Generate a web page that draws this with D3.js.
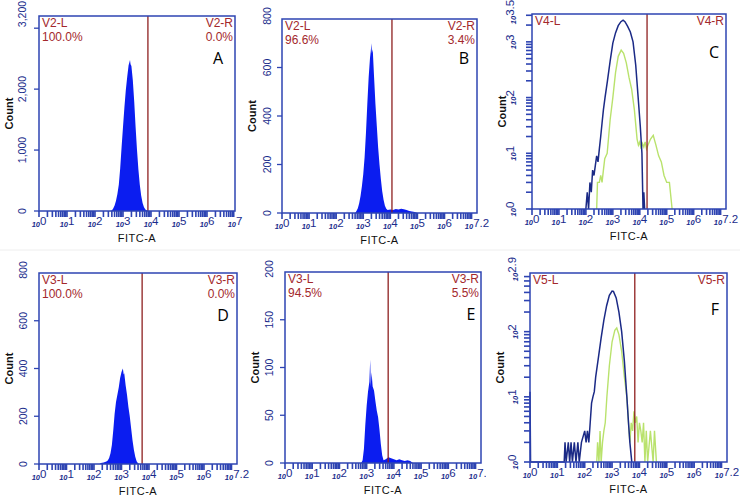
<!DOCTYPE html>
<html>
<head>
<meta charset="utf-8">
<script src="https://cdn.jsdelivr.net/npm/d3@7"></script>
<style>
body { margin: 0; background: #fff; }
svg { display: block; font-family: "Liberation Sans", Arial, sans-serif; }
</style>
</head>
<body>
<svg id="chart" width="740" height="498"></svg>
<script>
/**
 * Data (x in log10 of FITC-A, y in event count)
 */
var histA = [[2.55,0],[2.60,10],[2.65,40],[2.70,90],[2.75,170],[2.80,280],[2.85,430],[2.90,700],[2.95,1050],[3.00,1380],[3.05,1700],[3.10,1980],[3.15,2200],[3.20,2390],[3.23,2440],[3.25,2480],[3.27,2410],[3.30,2380],[3.35,2150],[3.40,1800],[3.45,1380],[3.50,1000],[3.55,680],[3.60,430],[3.65,250],[3.70,130],[3.75,60],[3.80,25],[3.85,8],[3.90,0]];
var histB = [[2.70,0],[2.75,8],[2.80,20],[2.85,40],[2.90,70],[2.95,110],[3.00,160],[3.05,230],[3.10,330],[3.15,450],[3.20,560],[3.25,640],[3.28,670],[3.30,700],[3.32,660],[3.35,675],[3.40,560],[3.45,450],[3.50,360],[3.55,270],[3.60,200],[3.65,140],[3.70,90],[3.75,55],[3.80,30],[3.85,18],[3.90,12],[4.00,14],[4.10,12],[4.20,16],[4.30,14],[4.40,18],[4.50,15],[4.60,12],[4.70,8],[4.80,6],[4.90,4],[5.00,0]];
var histD = [[2.20,0],[2.25,4],[2.35,6],[2.45,10],[2.50,15],[2.55,25],[2.60,45],[2.65,80],[2.70,140],[2.75,210],[2.80,260],[2.85,290],[2.90,320],[2.95,360],[3.00,385],[3.05,400],[3.08,375],[3.10,380],[3.15,330],[3.20,290],[3.25,240],[3.30,200],[3.35,150],[3.40,100],[3.45,60],[3.50,30],[3.55,12],[3.60,3],[3.65,0]];
var histE = [[2.80,0],[2.85,3],[2.90,15],[2.95,40],[3.00,60],[3.05,75],[3.10,85],[3.13,108],[3.15,80],[3.18,95],[3.22,80],[3.27,76],[3.32,65],[3.37,55],[3.42,48],[3.47,35],[3.52,20],[3.57,8],[3.62,3],[3.70,4],[3.80,6],[3.90,5],[4.00,4],[4.10,3],[4.20,4],[4.30,3],[4.40,2],[4.50,3],[4.60,2],[4.70,0]];

var lineCBlue = [[2.00,0],[2.05,2],[2.10,1],[2.15,3],[2.20,2],[2.25,5],[2.30,4],[2.35,6],[2.40,9],[2.45,7],[2.50,12],[2.55,20],[2.60,35],[2.65,60],[2.71,100],[2.80,200],[2.90,450],[3.00,950],[3.10,1450],[3.20,1950],[3.30,2300],[3.38,2450],[3.45,2300],[3.55,1900],[3.65,1500],[3.75,1000],[3.85,380],[3.94,100],[4.02,30],[4.08,10],[4.12,0],[4.15,2],[4.18,0]];
var lineCGreen = [[2.40,0],[2.43,3],[2.50,3],[2.55,4],[2.60,3],[2.65,5],[2.70,8],[2.79,10],[2.90,40],[3.00,100],[3.10,280],[3.20,550],[3.31,710],[3.40,620],[3.50,420],[3.60,230],[3.70,140],[3.80,60],[3.90,18],[3.95,14],[4.00,16],[4.05,12],[4.10,15],[4.15,13],[4.20,16],[4.25,12],[4.30,14],[4.40,18],[4.50,21],[4.55,17],[4.60,14],[4.70,9],[4.80,7],[4.90,4],[5.00,3],[5.10,3],[5.20,0]];
var lineFBlue = [[0.00,12],[0.02,0],[1.25,0],[1.28,2],[1.32,0],[1.40,2],[1.45,0],[1.50,2],[1.55,1],[1.62,2],[1.68,0],[1.75,2],[1.80,1],[1.88,2],[2.00,3],[2.05,2],[2.10,3],[2.15,2],[2.20,4],[2.25,8],[2.30,10],[2.35,12],[2.40,20],[2.50,40],[2.60,80],[2.70,150],[2.80,250],[2.90,360],[3.00,420],[3.05,415],[3.15,330],[3.25,200],[3.35,100],[3.45,35],[3.54,10],[3.60,4],[3.65,2],[3.72,0]];
var lineFGreen = [[2.44,0],[2.47,2],[2.52,0],[2.56,3],[2.60,1],[2.65,2],[2.70,3],[2.75,4],[2.81,10],[2.90,30],[3.00,70],[3.10,105],[3.17,114],[3.25,90],[3.35,50],[3.45,20],[3.54,10],[3.60,4],[3.65,2],[3.70,4],[3.75,3],[3.80,6],[3.85,4],[3.90,5],[3.95,2],[4.00,4],[4.05,3],[4.10,2],[4.15,4],[4.20,1],[4.25,3],[4.30,1],[4.40,3],[4.50,1],[4.55,3],[4.62,0]];

var panelIds =   ["A", "B", "C", "D", "E", "F"];
var gateNames =  ["V2", "V2", "V4", "V3", "V3", "V5"];
var leftPct =    ["100.0%", "96.6%", "", "100.0%", "94.5%", ""];
var rightPct =   ["0.0%", "3.4%", "", "0.0%", "5.5%", ""];
var gateAt =     [3.89, 4.06, 4.27, 3.75, 3.79, 3.83];
var xMax =       [7, 7.2, 7.2, 7.2, 7.2, 7.2];
var yMax =       [3200, 800, 3.5, 800, 200, 2.9];   // log panels: decades
var yTicks =     [[0, 1000, 2000, 3000], [0, 200, 400, 600], [0, 1, 2, 3], [0, 200, 400, 600], [0, 50, 100, 150], [0, 1, 2]];
var yTickLabels = [["0", "1,000", "2,000", ""], ["0", "200", "400", "600"], ["0", "1", "2", "3"], ["0", "200", "400", "600"], ["0", "50", "100", "150"], ["0", "1", "2"]];
var yTopLabel =  ["3,200", "800", "3.5", "800", "200", "2.9"];
var filled =     [histA, histB, null, histD, histE, null];
var lines =      [null, null, [lineCBlue, lineCGreen], null, null, [lineFBlue, lineFGreen]];

/**
 * Layout
 */
var layout = [
	{ l: 39,  r: 235, t: 16,  b: 211, letter: [-17, 48], yLab: -17 },
	{ l: 282, r: 477, t: 19,  b: 213, letter: [-13, 45], yLab: -15 },
	{ l: 532, r: 726, t: 14,  b: 209, letter: [-12, 44], yLab: -20 },
	{ l: 39,  r: 237, t: 273, b: 464, letter: [-14, 48], yLab: -16 },
	{ l: 285, r: 481, t: 272, b: 463, letter: [-10, 48], yLab: -16, clip: 486 },
	{ l: 530, r: 727, t: 273, b: 462, letter: [-12, 42], yLab: -16 }
];
var colors = {
	axis: "#2e44b2", tick: "#1a2c8c", fill: "#0b1df0", gate: "#8e1f1f",
	gateText: "#a3282c", blueLine: "#1b2a86", greenLine: "#b9e26c"
};

var svg = d3.select("#chart");
svg.append("line").attr("x1", 0).attr("x2", 740).attr("y1", 250).attr("y2", 250)
	.attr("stroke", "#eeeeee");

// Log label as small "10" + exponent
function logLabel(sel, exp) {
	sel.append("tspan").attr("font-size", 7.5).attr("font-style", "italic").attr("font-weight", "bold").text("10");
	sel.append("tspan").attr("font-size", 11.5).attr("dy", -2).text(exp);
}

function drawPanel(i) {
	var box = layout[i];
	var isLog = lines[i] != null;
	var g = svg.append("g");
	if (box.clip) {
		svg.append("clipPath").attr("id", "clip" + i).append("rect")
			.attr("x", box.l - 60).attr("y", box.t - 30).attr("width", box.clip - box.l + 60).attr("height", 300);
		g.attr("clip-path", "url(#clip" + i + ")");
	}

	var x = d3.scaleLinear().domain([0, xMax[i]]).range([box.l, box.r]);
	var y = isLog
		? d3.scaleLog().domain([1, Math.pow(10, yMax[i])]).range([box.b, box.t]).clamp(true)
		: d3.scaleLinear().domain([0, yMax[i]]).range([box.b, box.t]);

	// Data
	if (filled[i]) {
		g.append("path").datum(filled[i])
			.attr("fill", colors.fill)
			.attr("d", d3.area().x(function(d) { return x(d[0]); }).y0(box.b).y1(function(d) { return y(d[1]); }));
	}
	if (lines[i]) {
		var ln = d3.line().x(function(d) { return x(d[0]); }).y(function(d) { return y(Math.max(1, d[1])); });
		g.append("path").datum(lines[i][1]).attr("fill", "none").attr("stroke", colors.greenLine).attr("stroke-width", 1.4).attr("d", ln);
		g.append("path").datum(lines[i][0]).attr("fill", "none").attr("stroke", colors.blueLine).attr("stroke-width", 1.5).attr("d", ln);
	}

	// Gate
	g.append("line").attr("x1", x(gateAt[i])).attr("x2", x(gateAt[i]))
		.attr("y1", box.t).attr("y2", box.b)
		.attr("stroke", colors.gate).attr("stroke-width", 1.3);

	// Frame
	g.append("rect").attr("x", box.l).attr("y", box.t)
		.attr("width", box.r - box.l).attr("height", box.b - box.t)
		.attr("fill", "none").attr("stroke", colors.axis).attr("stroke-width", 1.5);

	// X ticks (log decades + minor)
	var xt = [];
	for (var k = 0; k < Math.ceil(xMax[i]); k++)
		for (var m = 1; m <= 9; m++) {
			var v = k + Math.log10(m);
			if (v <= xMax[i]) xt.push(v);
		}
	g.selectAll(null).data(xt).enter().append("line")
		.attr("x1", function(d) { return x(d); }).attr("x2", function(d) { return x(d); })
		.attr("y1", box.b).attr("y2", box.b + 6)
		.attr("stroke", colors.axis).attr("stroke-width", 1.6);

	var xl = d3.range(0, Math.floor(xMax[i]) + 1).filter(function(d) { return xMax[i] - d > 0.5 || d == xMax[i]; });
	if (xMax[i] % 1 != 0) xl.push(xMax[i]);
	xl.forEach(function(d) {
		var t = g.append("text").attr("x", x(d)).attr("y", box.b + 16)
			.attr("text-anchor", "middle").attr("fill", colors.tick);
		logLabel(t, d % 1 == 0 ? String(d) : d.toFixed(1));
	});

	// Y ticks
	if (isLog) {
		var yt = [];
		for (var k2 = 0; k2 < Math.ceil(yMax[i]); k2++)
			for (var m2 = 1; m2 <= 9; m2++) {
				var v2 = k2 + Math.log10(m2);
				if (v2 <= yMax[i]) yt.push(Math.pow(10, v2));
			}
		g.selectAll(null).data(yt).enter().append("line")
			.attr("x1", box.l - 6).attr("x2", box.l)
			.attr("y1", function(d) { return y(d); }).attr("y2", function(d) { return y(d); })
			.attr("stroke", colors.axis).attr("stroke-width", 1.6);
		yTicks[i].concat([yMax[i]]).forEach(function(d, j) {
			var py = y(Math.pow(10, d));
			if (j == yTicks[i].length) py = Math.max(py - 4, 12);
			var t = g.append("text").attr("transform", "translate(" + (box.l + box.yLab + 4) + "," + py + ") rotate(-90)")
				.attr("text-anchor", "middle").attr("fill", colors.tick);
			logLabel(t, j == yTicks[i].length ? yTopLabel[i] : yTickLabels[i][j]);
		});
	} else {
		g.selectAll(null).data(yTicks[i]).enter().append("line")
			.attr("x1", box.l - 5).attr("x2", box.l)
			.attr("y1", function(d) { return y(d); }).attr("y2", function(d) { return y(d); })
			.attr("stroke", colors.axis).attr("stroke-width", 1.3);
		yTicks[i].forEach(function(d, j) {
			g.append("text").attr("transform", "translate(" + (box.l + box.yLab) + "," + y(d) + ") rotate(-90)")
				.attr("text-anchor", "middle").attr("dominant-baseline", "central")
				.attr("font-size", 10.5).attr("fill", colors.tick).text(yTickLabels[i][j]);
		});
		g.append("text").attr("transform", "translate(" + (box.l + box.yLab) + "," + Math.max(box.t - 3, 14) + ") rotate(-90)")
			.attr("text-anchor", "middle").attr("dominant-baseline", "central")
			.attr("font-size", 10.5).attr("fill", colors.tick).text(yTopLabel[i]);
	}

	// Axis titles
	g.append("text").attr("transform", "translate(" + (box.l - 30) + "," + ((box.t + box.b) / 2) + ") rotate(-90)")
		.attr("text-anchor", "middle").attr("dominant-baseline", "central")
		.attr("font-size", 11).attr("font-weight", "bold").attr("fill", "#111").text("Count");
	g.append("text").attr("x", (box.l + box.r) / 2).attr("y", box.b + 27)
		.attr("text-anchor", "middle").attr("dominant-baseline", "central")
		.attr("font-size", 11).attr("letter-spacing", 0.5).attr("fill", "#111").text("FITC-A");

	// Gate labels
	var gl = [[box.l + 3, box.t + 11, "start", gateNames[i] + "-L"], [box.l + 3, box.t + 25, "start", leftPct[i]],
	          [box.r - 2, box.t + 11, "end", gateNames[i] + "-R"], [box.r - 2, box.t + 25, "end", rightPct[i]]];
	gl.forEach(function(d) {
		if (d[3]) g.append("text").attr("x", d[0]).attr("y", d[1]).attr("text-anchor", d[2])
			.attr("font-size", 12).attr("fill", colors.gateText).text(d[3]);
	});

	// Panel letter
	g.append("text").attr("x", box.r + box.letter[0]).attr("y", box.t + box.letter[1])
		.attr("text-anchor", "middle").attr("font-family", "'Open Sans', sans-serif")
		.attr("font-size", 16).attr("fill", "#000").text(panelIds[i]);
}

panelIds.forEach(function(id, i) { drawPanel(i); });
</script>
</body>
</html>
